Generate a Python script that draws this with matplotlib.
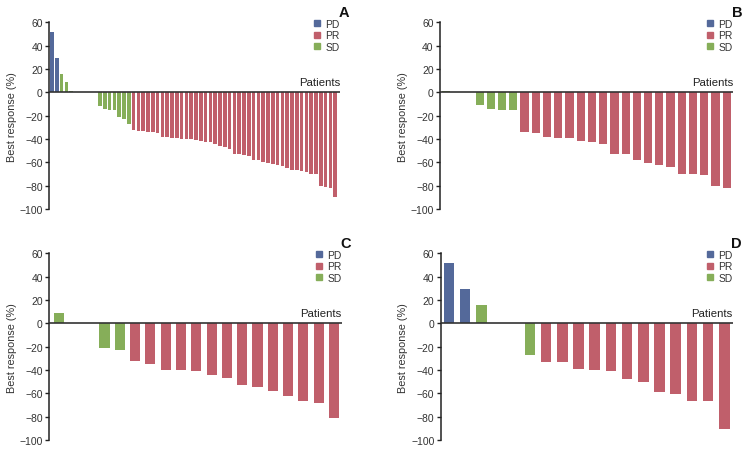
import matplotlib.pyplot as plt
from matplotlib.lines import Line2D

plt.rcParams['font.family'] = ['Liberation Sans', 'DejaVu Sans']

# response colours
colors = {'PD': '#54699a', 'PR': '#c05f6b', 'SD': '#86ae59'}
legend_order = ['PD', 'PR', 'SD']

# --- data (best response %, one value per patient) ---
a_values = [52, 29,
            16, 9, 1, 0, 0, 0, 0, 0, -12, -14, -15, -15, -21, -23, -27,
            -32, -33, -33, -34, -34, -35, -38, -38, -39, -39,
            -40, -40, -40, -41, -41.5, -43, -43, -44, -46, -46.5,
            -49, -53, -53, -53.5, -55, -58, -58, -60, -61, -61.5,
            -62, -63, -65, -67, -67, -67.5, -68, -70, -70, -80,
            -81, -82, -90]
a_resp = ['PD'] * 2 + ['SD'] * 15 + ['PR'] * 43

b_values = [1, 0, 0, -11, -14, -15, -15,
            -34, -35, -38, -39, -39.5, -42, -43, -44, -53, -53,
            -58, -61, -62, -64, -70, -70, -70.5, -80, -82]
b_resp = ['SD'] * 7 + ['PR'] * 19

c_values = [9, 0, 0, -21, -23,
            -32, -35, -40, -40, -41, -44, -47, -53, -55, -58,
            -62, -67, -68, -81]
c_resp = ['SD'] * 5 + ['PR'] * 14

d_values = [52, 29, 16, 0, 0, -27,
            -33, -33, -39, -40, -41, -48, -50, -59, -61, -67, -67, -91]
d_resp = ['PD'] * 2 + ['SD'] * 4 + ['PR'] * 12

yticks = [60, 40, 20, 0, -20, -40, -60, -80, -100]

W, H = 746, 452
fig = plt.figure(figsize=(W / 100, H / 100), dpi=100)


def px_axes(x0, x1, ytop, ybot):
    return fig.add_axes([x0 / W, 1 - ybot / H, (x1 - x0) / W, (ybot - ytop) / H])


panels = [
    ('A', a_values, a_resp, (49, 340, 23.3, 210), 0.72, (-0.62, 60.0)),
    ('B', b_values, b_resp, (440, 733, 23.3, 210), 0.73, (-0.53, 25.56)),
    ('C', c_values, c_resp, (49, 341.7, 254.3, 441), 0.66, (-0.63, 18.5)),
    ('D', d_values, d_resp, (440.7, 732.7, 254.3, 441), 0.66, (-0.51, 17.52)),
]

for letter, values, resp, box, width, xlim in panels:
    ax = px_axes(*box)
    x = list(range(len(values)))
    ax.bar(x, values, width=width, color=[colors[r] for r in resp], linewidth=0)
    ax.axhline(0, color='#333333', linewidth=1.2, zorder=3)

    ax.set_xlim(*xlim)
    ax.set_ylim(-100, 60)
    ax.set_yticks(yticks)
    ax.set_yticklabels([f'\u2212{abs(t)}' if t < 0 else str(t) for t in yticks])
    ax.set_xticks([])
    for s in ['top', 'right', 'bottom']:
        ax.spines[s].set_visible(False)
    ax.spines['left'].set_color('#222222')
    ax.spines['left'].set_linewidth(1.1)
    ax.tick_params(axis='y', direction='out', length=3, width=1.0, color='#222222',
                   labelsize=7.5, labelcolor='#333333', pad=1.5)
    ax.set_ylabel('Best response (%)', fontsize=7.8, color='#333333', labelpad=2)

    ax.annotate('Patients', xy=(1.0, 0), xycoords=('axes fraction', 'data'),
                xytext=(0, 4), textcoords='offset points', ha='right', va='bottom',
                fontsize=8.2, color='#222222')
    ax.text(1.014, 1.057, letter, transform=ax.transAxes, ha='center', va='center',
            fontsize=10.5, fontweight='bold', color='#111111')

    handles = [Line2D([], [], marker='s', linestyle='none', markersize=3.8,
                      color=colors[k]) for k in legend_order]
    ax.legend(handles, legend_order, loc='upper right', bbox_to_anchor=(1.0, 1.02),
              frameon=False, fontsize=7.4, handlelength=0.6, handletextpad=0.5,
              labelspacing=0.15, borderpad=0, borderaxespad=0,
              labelcolor='#333333')

fig.savefig('out.png', dpi=100)
